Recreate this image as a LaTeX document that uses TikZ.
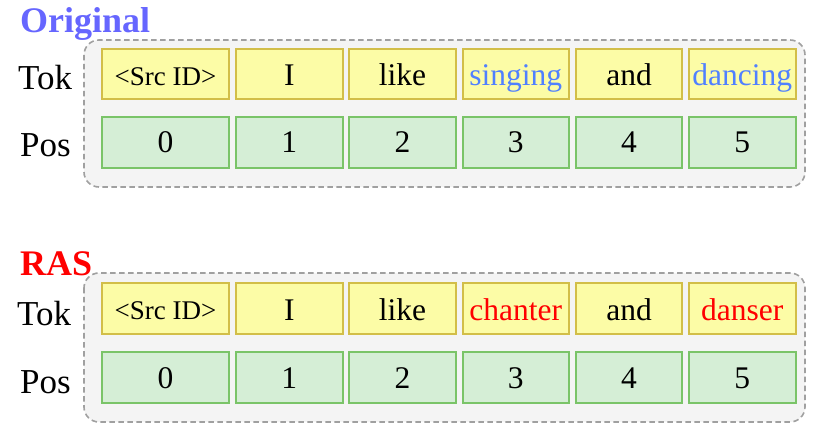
\documentclass[tikz,border=0pt]{standalone}
\usepackage{fontspec}
\setmainfont{Liberation Serif}
\definecolor{origblue}{RGB}{102,102,255}
\definecolor{tokblue}{RGB}{80,128,255}
\definecolor{rasred}{RGB}{255,0,0}
\definecolor{tokfill}{RGB}{252,252,166}
\definecolor{tokdraw}{RGB}{210,190,72}
\definecolor{posfill}{RGB}{213,238,214}
\definecolor{posdraw}{RGB}{122,196,104}
\definecolor{panelfill}{RGB}{244,244,244}
\definecolor{paneldraw}{RGB}{160,160,160}
\tikzset{
  panelbox/.style={draw=paneldraw, fill=panelfill, line width=1.6bp, dash pattern=on 5.5bp off 3.5bp, rounded corners=15bp},
  cellbase/.style={inner sep=0pt, outer sep=0pt, line width=2bp, minimum height=50.5bp, anchor=west, text depth=0pt},
  tokcell/.style={cellbase, draw=tokdraw, fill=tokfill, font=\fontsize{31.5bp}{36bp}\selectfont, text height=24bp},
  srccell/.style={cellbase, draw=tokdraw, fill=tokfill, font=\fontsize{27bp}{30bp}\selectfont, text height=22.5bp},
  poscell/.style={cellbase, draw=posdraw, fill=posfill, font=\fontsize{31.5bp}{36bp}\selectfont, text height=21bp},
  rowlabel/.style={inner sep=0pt, anchor=base west, font=\fontsize{35bp}{40bp}\selectfont},
  titlelabel/.style={inner sep=0pt, anchor=base west, font=\bfseries\fontsize{36bp}{40bp}\selectfont},
}
\begin{document}
\begin{tikzpicture}[x=1bp, y=-1bp]
\useasboundingbox (0,0) rectangle (823,440);
% ---------- Original ----------
\node[titlelabel, text=origblue] (t1) at (20,33) {Original};
\draw[panelbox] (84,40) rectangle (805,187);
\node[rowlabel] (tok1) at (18,90) {Tok};
\node[rowlabel] (pos1) at (20,157) {Pos};
\node[srccell, minimum width=127bp] (a0) at (102,74) {<Src ID>};
\node[tokcell, minimum width=106.5bp] (a1) at (236,74) {I};
\node[tokcell, minimum width=106.5bp] (a2) at (349.25,74) {like};
\node[tokcell, minimum width=106.5bp, text=tokblue] (a3) at (462.5,74) {singing};
\node[tokcell, minimum width=106.5bp] (a4) at (575.75,74) {and};
\node[tokcell, minimum width=106.5bp, text=tokblue] (a5) at (689,74) {dancing};
\node[poscell, minimum width=127bp] (b0) at (102,142.5) {0};
\node[poscell, minimum width=106.5bp] (b1) at (236,142.5) {1};
\node[poscell, minimum width=106.5bp] (b2) at (349.25,142.5) {2};
\node[poscell, minimum width=106.5bp] (b3) at (462.5,142.5) {3};
\node[poscell, minimum width=106.5bp] (b4) at (575.75,142.5) {4};
\node[poscell, minimum width=106.5bp] (b5) at (689,142.5) {5};
% ---------- RAS ----------
\node[titlelabel, text=rasred] (t2) at (20,276) {RAS};
\draw[panelbox] (84,273) rectangle (805,422);
\node[rowlabel] (tok2) at (17,326) {Tok};
\node[rowlabel] (pos2) at (20,393) {Pos};
\node[srccell, minimum width=127bp] (c0) at (102,308.5) {<Src ID>};
\node[tokcell, minimum width=106.5bp] (c1) at (236,308.5) {I};
\node[tokcell, minimum width=106.5bp] (c2) at (349.25,308.5) {like};
\node[tokcell, minimum width=106.5bp, text=rasred] (c3) at (462.5,308.5) {chanter};
\node[tokcell, minimum width=106.5bp] (c4) at (575.75,308.5) {and};
\node[tokcell, minimum width=106.5bp, text=rasred] (c5) at (689,308.5) {danser};
\node[poscell, minimum width=127bp] (d0) at (102,377.5) {0};
\node[poscell, minimum width=106.5bp] (d1) at (236,377.5) {1};
\node[poscell, minimum width=106.5bp] (d2) at (349.25,377.5) {2};
\node[poscell, minimum width=106.5bp] (d3) at (462.5,377.5) {3};
\node[poscell, minimum width=106.5bp] (d4) at (575.75,377.5) {4};
\node[poscell, minimum width=106.5bp] (d5) at (689,377.5) {5};
\end{tikzpicture}
\end{document}
